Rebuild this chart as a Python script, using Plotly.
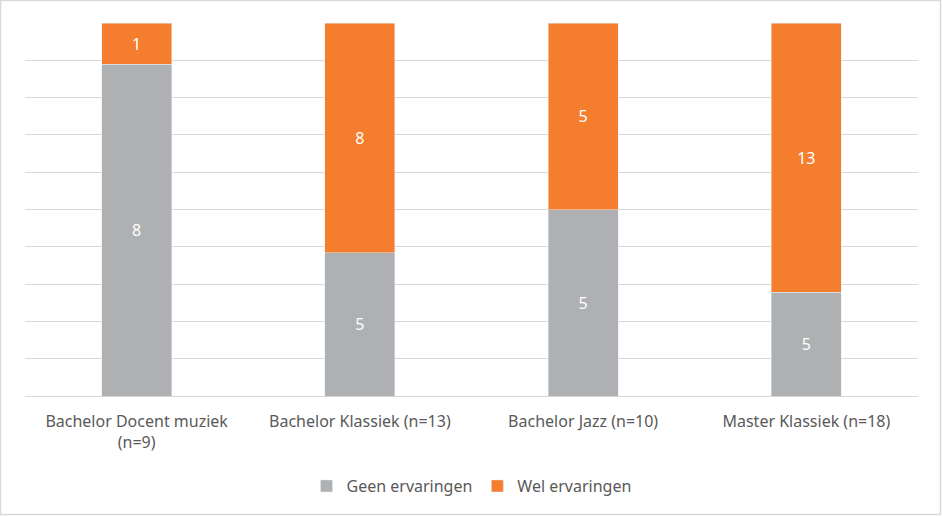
import plotly.graph_objects as go

# Data
categories = ["Bachelor Docent muziek<br>(n=9)", "Bachelor Klassiek (n=13)",
              "Bachelor Jazz (n=10)", "Master Klassiek (n=18)"]
geen = [8, 5, 5, 5]
wel = [1, 8, 5, 13]
series_names = ["Geen ervaringen", "Wel ervaringen"]

W, H = 942, 516
L, R, T, B = 25, 24, 23, 120
pw, ph = W - L - R, H - T - B

fig = go.Figure()
fig.add_trace(go.Bar(x=categories, y=geen, name=series_names[0], marker_color="#AEB0B2",
                     text=geen, textposition="inside", insidetextanchor="middle",
                     textfont=dict(color="white", size=16)))
fig.add_trace(go.Bar(x=categories, y=wel, name=series_names[1], marker_color="#F47D2E",
                     text=wel, textposition="inside", insidetextanchor="middle",
                     textfont=dict(color="white", size=16)))

fig.update_layout(
    width=W, height=H,
    margin=dict(l=L, r=R, t=T, b=B),
    barmode="stack", barnorm="percent", bargap=0.686,
    plot_bgcolor="white", paper_bgcolor="white",
    font=dict(family="Noto Sans", size=16, color="#595959"),
    showlegend=True,
    legend=dict(orientation="h", x=0.5, xanchor="center", y=(T + ph - 486) / ph,
                yanchor="middle", font=dict(size=16, color="#595959"),
                itemwidth=30, traceorder="normal"),
    uniformtext=dict(mode="show", minsize=10),
)
fig.update_xaxes(showline=True, linecolor="#D9D9D9", linewidth=1, ticks="",
                 tickfont=dict(size=16, color="#595959"), ticklabelstandoff=11)
fig.update_yaxes(range=[0, 100], dtick=10, showticklabels=False, showgrid=True,
                 gridcolor="#D9D9D9", gridwidth=1, zeroline=False)

# thin border around the whole picture
fig.add_shape(type="rect", xref="paper", yref="paper",
              x0=(-L + 0.5) / pw, x1=(pw + R - 1.5) / pw,
              y0=(-B + 1.5) / ph, y1=(ph + T - 0.5) / ph,
              line=dict(color="#D9D9D9", width=1.5))

fig.write_html("out.html", config={"displayModeBar": False},
               post_script="document.body.style.margin='0';")
